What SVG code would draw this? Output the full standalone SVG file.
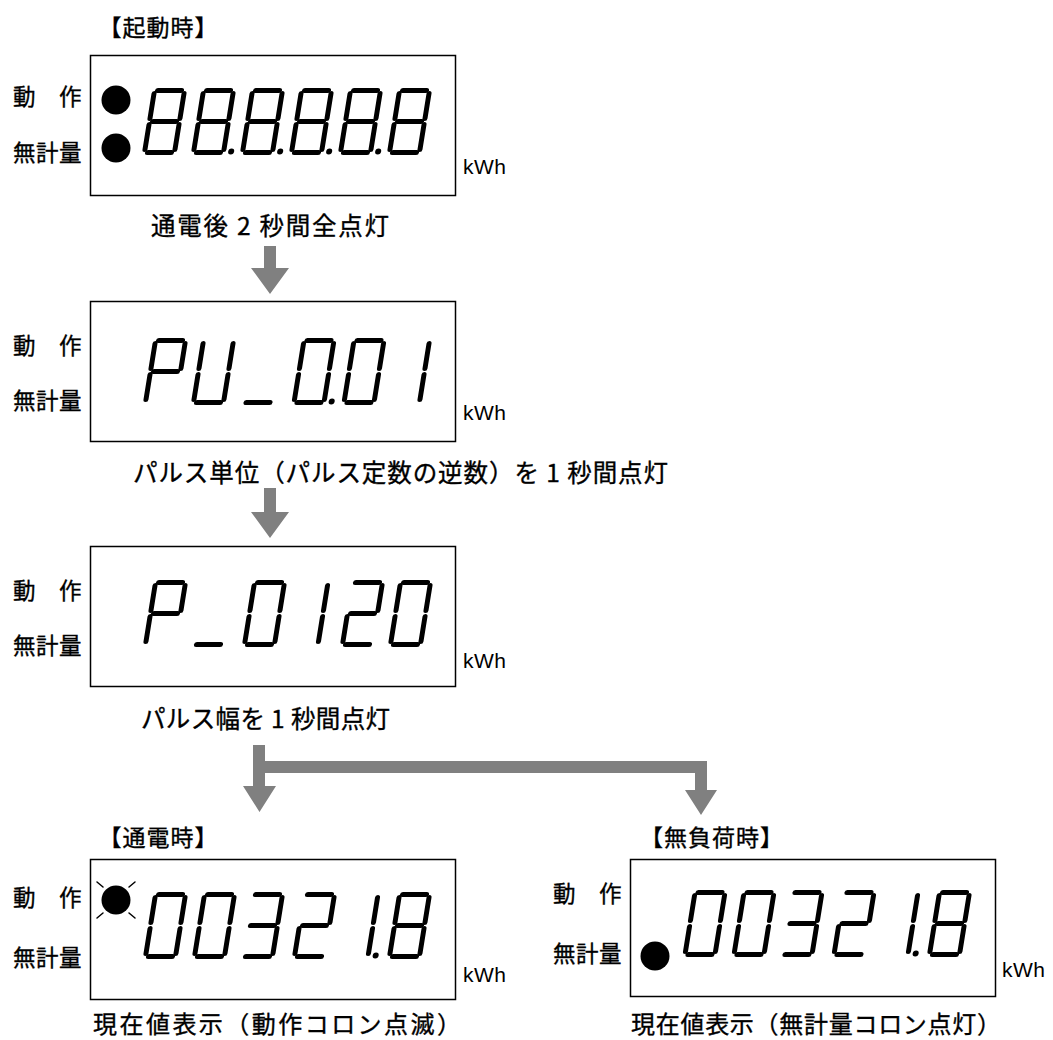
<svg xmlns="http://www.w3.org/2000/svg" xmlns:xlink="http://www.w3.org/1999/xlink" width="1053" height="1040" viewBox="0 0 1053 1040">
<style>
.box{fill:#fff;stroke:#000;stroke-width:1.5}
.seg{stroke:#000;stroke-width:5;stroke-linecap:round;fill:none}
.thick .seg{stroke-width:6}
.thin .seg{stroke-width:4.6}
.lbl{font-family:"Noto Sans CJK JP","Noto Sans CJK SC",sans-serif;font-size:22.5px;letter-spacing:0.5px;fill:#000;stroke:#000;stroke-width:0.35}
.ttl{font-family:"Noto Sans CJK JP","Noto Sans CJK SC",sans-serif;font-size:23px;letter-spacing:1px;fill:#000;stroke:#000;stroke-width:0.35}
.cap{font-family:"Noto Sans CJK JP","Noto Sans CJK SC",sans-serif;font-size:24.5px;fill:#000;stroke:#000;stroke-width:0.35}
.capb{font-size:24px}
.unit{font-family:"Liberation Sans",Arial,sans-serif;font-size:21px;letter-spacing:0.5px;fill:#000}
.arr{fill:#808080}
.ray{stroke:#000;stroke-width:1.5;stroke-linecap:round}
</style>
<defs>
<path id="sa" class="seg" d="M3,0H27"/>
<path id="sb" class="seg" d="M30,3V28"/>
<path id="sc" class="seg" d="M30,34V59"/>
<path id="sd" class="seg" d="M3,62H27"/>
<path id="se" class="seg" d="M0,34V59"/>
<path id="sf" class="seg" d="M0,3V28"/>
<path id="sg" class="seg" d="M3,31H27"/>
<circle id="dp" cx="37.5" cy="61" r="3"/>
<g id="n8"><use href="#sa"/><use href="#sb"/><use href="#sc"/><use href="#sd"/><use href="#se"/><use href="#sf"/><use href="#sg"/></g>
<g id="n0"><use href="#sa"/><use href="#sb"/><use href="#sc"/><use href="#sd"/><use href="#se"/><use href="#sf"/></g>
<g id="n1"><use href="#sb"/><use href="#sc"/></g>
<g id="n2"><use href="#sa"/><use href="#sb"/><use href="#sg"/><use href="#se"/><use href="#sd"/></g>
<g id="n3"><use href="#sa"/><use href="#sb"/><use href="#sg"/><use href="#sc"/><use href="#sd"/></g>
<g id="nP"><use href="#sa"/><use href="#sb"/><use href="#sf"/><use href="#sg"/><use href="#se"/></g>
<g id="nU"><use href="#sb"/><use href="#sc"/><use href="#sd"/><use href="#se"/><use href="#sf"/></g>
<g id="nU_"><use href="#sd"/></g>
</defs>

<g id="connectors">
<path class="arr" d="M264,246H276V268H289L270,294L251,268H264Z"/>
<path class="arr" d="M264,488H276V512H289L270,538L251,512H264Z"/>
<path class="arr" d="M253,745H265V786H276L259.5,812L243,786H253Z"/>
<path class="arr" d="M265,761H707V790H717L701,815L685,790H695V773H265Z"/>
</g>

<g id="startup">
<text class="ttl" x="98.5" y="36">【起動時】</text>
<rect class="box" x="90.5" y="55.5" width="365" height="140"/>
<text class="lbl" x="13" y="105">動　作</text>
<text class="lbl" x="13" y="161">無計量</text>
<circle cx="116" cy="100" r="14.5"/>
<circle cx="116" cy="148" r="14.5"/>
<g class="thick">
<use href="#n8" transform="translate(154.5,90.5) skewX(-9.16)"/>
<use href="#n8" transform="translate(203.5,90.5) skewX(-9.16)"/>
<use href="#dp" transform="translate(203.5,90.5) skewX(-9.16)"/>
<use href="#n8" transform="translate(252.5,90.5) skewX(-9.16)"/>
<use href="#dp" transform="translate(252.5,90.5) skewX(-9.16)"/>
<use href="#n8" transform="translate(301.5,90.5) skewX(-9.16)"/>
<use href="#dp" transform="translate(301.5,90.5) skewX(-9.16)"/>
<use href="#n8" transform="translate(350.5,90.5) skewX(-9.16)"/>
<use href="#dp" transform="translate(350.5,90.5) skewX(-9.16)"/>
<use href="#n8" transform="translate(399.5,90.5) skewX(-9.16)"/>
</g>
<text class="unit" x="463" y="174">kWh</text>
<text class="cap" x="151" y="235" textLength="238" lengthAdjust="spacing">通電後 2 秒間全点灯</text>
</g>

<g id="pulse-unit">
<rect class="box" x="90.5" y="301.5" width="365" height="140"/>
<text class="lbl" x="13" y="354">動　作</text>
<text class="lbl" x="13" y="409">無計量</text>
<g class="thin">
<use href="#nP" transform="translate(155.5,340.5) skewX(-9.16)"/>
<use href="#nU" transform="translate(203.5,340.5) skewX(-9.16)"/>
<use href="#nU_" transform="translate(253,340.5) skewX(-9.16)"/>
<use href="#n0" transform="translate(304,340.5) skewX(-9.16)"/>
<use href="#dp" transform="translate(304,340.5) skewX(-9.16)"/>
<use href="#n0" transform="translate(354,340.5) skewX(-9.16)"/>
<use href="#n1" transform="translate(399.5,340.5) skewX(-9.16)"/>
</g>
<text class="unit" x="463" y="420">kWh</text>
<text class="cap" x="133" y="482" textLength="535" lengthAdjust="spacing">パルス単位（パルス定数の逆数）を 1 秒間点灯</text>
</g>

<g id="pulse-width">
<rect class="box" x="90.5" y="546.5" width="365" height="140"/>
<text class="lbl" x="13" y="599">動　作</text>
<text class="lbl" x="13" y="654">無計量</text>
<g class="thin">
<use href="#nP" transform="translate(155.5,582.5) skewX(-9.16)"/>
<use href="#nU_" transform="translate(203.5,582.5) skewX(-9.16)"/>
<use href="#n0" transform="translate(254.5,582.5) skewX(-9.16)"/>
<use href="#n1" transform="translate(298,582.5) skewX(-9.16)"/>
<use href="#n2" transform="translate(352.5,582.5) skewX(-9.16)"/>
<use href="#n0" transform="translate(400.5,582.5) skewX(-9.16)"/>
</g>
<text class="unit" x="463" y="668">kWh</text>
<text class="cap" x="141" y="728" textLength="249" lengthAdjust="spacing">パルス幅を 1 秒間点灯</text>
</g>

<g id="energized">
<text class="ttl" x="98.5" y="846">【通電時】</text>
<rect class="box" x="90.5" y="859.5" width="365" height="140"/>
<text class="lbl" x="13" y="906">動　作</text>
<text class="lbl" x="13" y="966">無計量</text>
<circle cx="116" cy="900" r="14.5"/>
<line class="ray" x1="97" y1="882" x2="103" y2="887"/>
<line class="ray" x1="129" y1="887" x2="135" y2="882"/>
<line class="ray" x1="97" y1="918" x2="103" y2="913"/>
<line class="ray" x1="129" y1="913" x2="135" y2="918"/>
<g class="thin">
<use href="#n0" transform="translate(155.5,894.5) skewX(-9.16)"/>
<use href="#n0" transform="translate(204.5,894.5) skewX(-9.16)"/>
<use href="#n3" transform="translate(252.5,894.5) skewX(-9.16)"/>
<use href="#n2" transform="translate(304.5,894.5) skewX(-9.16)"/>
<use href="#n1" transform="translate(348,894.5) skewX(-9.16)"/>
<use href="#dp" transform="translate(348,894.5) skewX(-9.16)"/>
<use href="#n8" transform="translate(399.5,894.5) skewX(-9.16)"/>
</g>
<text class="unit" x="463" y="982">kWh</text>
<text class="cap capb" x="93" y="1033" textLength="368" lengthAdjust="spacing">現在値表示（動作コロン点滅）</text>
</g>

<g id="no-load">
<text class="ttl" x="640" y="846">【無負荷時】</text>
<rect class="box" x="630.5" y="859.5" width="365" height="137"/>
<text class="lbl" x="553" y="902">動　作</text>
<text class="lbl" x="553" y="962">無計量</text>
<circle cx="655" cy="956" r="14.5"/>
<g class="thin">
<use href="#n0" transform="translate(695,892.5) skewX(-9.16)"/>
<use href="#n0" transform="translate(744,892.5) skewX(-9.16)"/>
<use href="#n3" transform="translate(792,892.5) skewX(-9.16)"/>
<use href="#n2" transform="translate(844,892.5) skewX(-9.16)"/>
<use href="#n1" transform="translate(888,892.5) skewX(-9.16)"/>
<use href="#dp" transform="translate(888,892.5) skewX(-9.16)"/>
<use href="#n8" transform="translate(939.5,892.5) skewX(-9.16)"/>
</g>
<text class="unit" x="1002" y="977">kWh</text>
<text class="cap capb" x="631" y="1033" textLength="370" lengthAdjust="spacing">現在値表示（無計量コロン点灯）</text>
</g>
</svg>
